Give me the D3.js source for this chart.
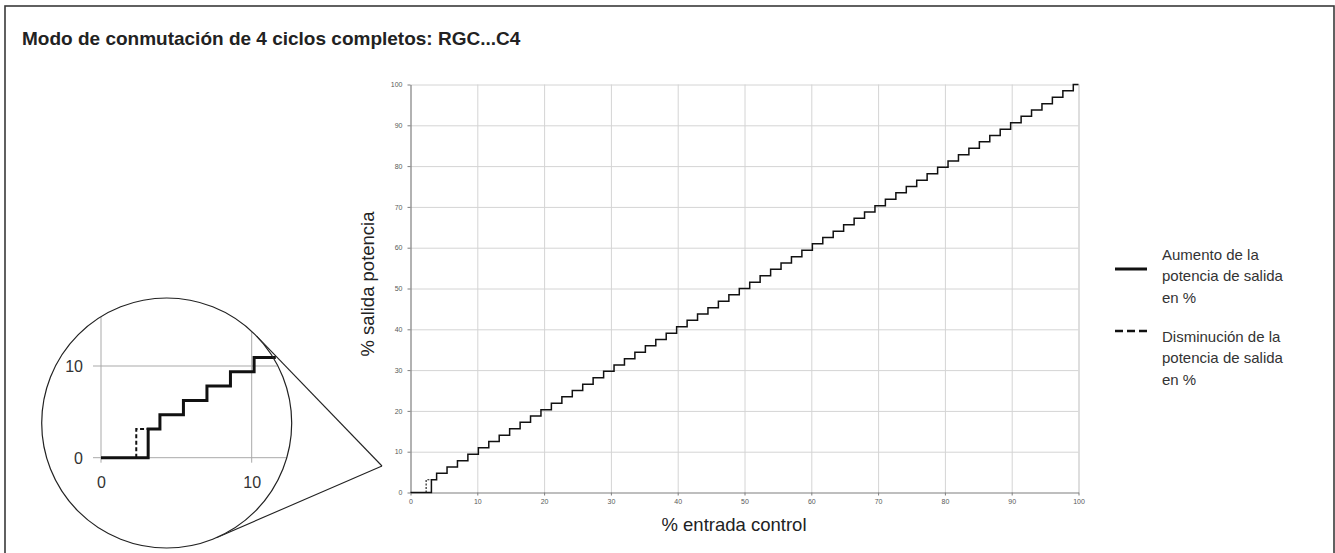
<!DOCTYPE html>
<html>
<head>
<meta charset="utf-8">
<script src="https://cdn.jsdelivr.net/npm/d3@7"></script>
<style>
  html, body { margin: 0; padding: 0; background: #fff; }
  svg { display: block; }
  text { font-family: "Liberation Sans", Arial, Helvetica, sans-serif; }
</style>
</head>
<body>
<svg id="chart" width="1335" height="553"></svg>
<script>
// ---------------- DATA ----------------
const titleText = "Modo de conmutación de 4 ciclos completos: RGC...C4";
const xAxisTitle = "% entrada control";
const yAxisTitle = "% salida potencia";
const mainTicks = [0, 10, 20, 30, 40, 50, 60, 70, 80, 90, 100];
const insetTicks = [0, 10];

// Increasing output power (step positions on % control input, output level after the step)
const incX = [0, 3.13, 3.91, 5.47, 7.03, 8.59, 10.16, 11.72, 13.28, 14.84, 16.41, 17.97, 19.53, 21.09, 22.66,
  24.22, 25.78, 27.34, 28.91, 30.47, 32.03, 33.59, 35.16, 36.72, 38.28, 39.84, 41.41, 42.97, 44.53,
  46.09, 47.66, 49.22, 50.78, 52.34, 53.91, 55.47, 57.03, 58.59, 60.16, 61.72, 63.28, 64.84, 66.41,
  67.97, 69.53, 71.09, 72.66, 74.22, 75.78, 77.34, 78.91, 80.47, 82.03, 83.59, 85.16, 86.72, 88.28,
  89.84, 91.41, 92.97, 94.53, 96.09, 97.66, 99.22, 100];
const incY = [0, 3.13, 4.69, 6.25, 7.81, 9.38, 10.94, 12.5, 14.06, 15.63, 17.19, 18.75, 20.31, 21.88, 23.44,
  25, 26.56, 28.13, 29.69, 31.25, 32.81, 34.38, 35.94, 37.5, 39.06, 40.63, 42.19, 43.75, 45.31,
  46.88, 48.44, 50, 51.56, 53.13, 54.69, 56.25, 57.81, 59.38, 60.94, 62.5, 64.06, 65.63, 67.19,
  68.75, 70.31, 71.88, 73.44, 75, 76.56, 78.13, 79.69, 81.25, 82.81, 84.38, 85.94, 87.5, 89.06,
  90.63, 92.19, 93.75, 95.31, 96.88, 98.44, 100, 100];

// Decreasing output power (differs only at the first step)
const decX = [2.34, 2.34, 3.13];
const decY = [0, 3.13, 3.13];

const legendItems = [
  { lines: ["Aumento de la", "potencia de salida", "en %"], dash: null },
  { lines: ["Disminución de la", "potencia de salida", "en %"], dash: "8,4" }
];

// ---------------- DRAW ----------------
const svg = d3.select("#chart");
const incPts = incX.map((x, i) => [x, incY[i]]);
const decPts = decX.map((x, i) => [x, decY[i]]);

// frame
svg.append("rect").attr("x", 5).attr("y", 6).attr("width", 1329).attr("height", 600)
  .attr("fill", "none").attr("stroke", "#3a3a3a").attr("stroke-width", 1.6);

// title
svg.append("text").attr("x", 22).attr("y", 45).attr("font-size", 19).attr("font-weight", "bold")
  .attr("fill", "#222").text(titleText);

// main plot
const x = d3.scaleLinear().domain([0, 100]).range([410.5, 1078.5]);
const y = d3.scaleLinear().domain([0, 100]).range([492.5, 84.5]);
const plotH = y(0) - y(100), plotW = x(100) - x(0);

const main = svg.append("g");
// grid
const gx = main.append("g").attr("transform", `translate(0,${y(0)})`)
  .call(d3.axisBottom(x).tickValues(mainTicks.slice(1)).tickSize(-plotH).tickFormat(""));
gx.select(".domain").remove();
gx.selectAll("line").attr("stroke", "#d4d4d4").attr("stroke-width", 1);
gx.selectAll(".tick").filter(d => d === 100).select("line").attr("stroke", "#dedede").attr("stroke-width", 2);
const gy = main.append("g").attr("transform", `translate(${x(0)},0)`)
  .call(d3.axisLeft(y).tickValues(mainTicks.slice(1)).tickSize(-plotW).tickFormat(""));
gy.select(".domain").remove();
gy.selectAll("line").attr("stroke", "#d4d4d4").attr("stroke-width", 1);

// axes
const ax = main.append("g").attr("transform", `translate(0,${y(0)})`)
  .call(d3.axisBottom(x).tickValues(mainTicks).tickSize(3).tickSizeOuter(0).tickPadding(4));
const ay = main.append("g").attr("transform", `translate(${x(0)},0)`)
  .call(d3.axisLeft(y).tickValues(mainTicks).tickSize(3).tickSizeOuter(0).tickPadding(5));
[ax, ay].forEach(g => {
  g.select(".domain").attr("stroke", "#7f7f7f").attr("stroke-width", 1.2);
  g.selectAll(".tick line").attr("stroke", "#7f7f7f");
  g.selectAll(".tick text").attr("font-family", "'DejaVu Sans', Verdana, sans-serif")
    .attr("font-size", 7).attr("fill", "#595959");
});

// staircase lines
const stepLine = d3.line().x(d => x(d[0])).y(d => y(d[1])).curve(d3.curveStepAfter);
const linLine = d3.line().x(d => x(d[0])).y(d => y(d[1]));
main.append("path").attr("d", linLine(decPts)).attr("fill", "none").attr("stroke", "#111")
  .attr("stroke-width", 1.1).attr("stroke-dasharray", "2,1.5");
main.append("path").attr("d", stepLine(incPts)).attr("fill", "none").attr("stroke", "#111")
  .attr("stroke-width", 1.5);

// axis titles
svg.append("text").attr("x", 734).attr("y", 531).attr("text-anchor", "middle")
  .attr("font-size", 18.5).attr("fill", "#222").text(xAxisTitle);
svg.append("text").attr("transform", "translate(374,284) rotate(-90)").attr("text-anchor", "middle")
  .attr("font-size", 18.5).attr("fill", "#222").text(yAxisTitle);

// ---------------- INSET ----------------
const cx = 166.7, cy = 423, r = 125;
const apex = [382, 466];
// tangent lines
const dx = apex[0] - cx, dy = apex[1] - cy, d = Math.hypot(dx, dy);
const base = Math.atan2(dy, dx), off = Math.acos(r / d);
[base - off, base + off].forEach(a => {
  svg.append("line").attr("x1", cx + r * Math.cos(a)).attr("y1", cy + r * Math.sin(a))
    .attr("x2", apex[0]).attr("y2", apex[1]).attr("stroke", "#222").attr("stroke-width", 1.1);
});

const defs = svg.append("defs");
defs.append("clipPath").attr("id", "circClip").append("circle").attr("cx", cx).attr("cy", cy).attr("r", r);
const xi = d3.scaleLinear().domain([0, 10]).range([101, 251.7]);
const yi = d3.scaleLinear().domain([0, 10]).range([457.7, 366]);
defs.append("clipPath").attr("id", "lineClip").append("rect")
  .attr("x", 0).attr("y", 0).attr("width", xi(11.6)).attr("height", 553);

svg.append("circle").attr("cx", cx).attr("cy", cy).attr("r", r).attr("fill", "#fff");

const inset = svg.append("g").attr("clip-path", "url(#circClip)");
insetTicks.forEach(t => {
  inset.append("line").attr("x1", xi(t)).attr("x2", xi(t)).attr("y1", yi(0) + 5).attr("y2", 200)
    .attr("stroke", "#a9a9a9").attr("stroke-width", 1);
  inset.append("line").attr("x1", xi(0) - 8).attr("x2", 400).attr("y1", yi(t)).attr("y2", yi(t))
    .attr("stroke", "#a9a9a9").attr("stroke-width", 1);
});
insetTicks.forEach(t => {
  svg.append("text").attr("x", xi(t) + 0.5).attr("y", yi(0) + 30).attr("text-anchor", "middle")
    .attr("font-size", 16).attr("fill", "#333").text(t);
  svg.append("text").attr("x", xi(0) - 18).attr("y", yi(t) + 6).attr("text-anchor", "end")
    .attr("font-size", 16).attr("fill", "#333").text(t);
});
const stepI = d3.line().x(d => xi(d[0])).y(d => yi(d[1])).curve(d3.curveStepAfter);
const linI = d3.line().x(d => xi(d[0])).y(d => yi(d[1]));
const insetLines = svg.append("g").attr("clip-path", "url(#lineClip)");
insetLines.append("path").attr("d", linI(decPts)).attr("fill", "none").attr("stroke", "#111")
  .attr("stroke-width", 2).attr("stroke-dasharray", "4,2.5");
insetLines.append("path").attr("d", stepI(incPts.filter(p => p[0] <= 12))).attr("fill", "none")
  .attr("stroke", "#111").attr("stroke-width", 3).attr("stroke-linejoin", "miter");

svg.append("circle").attr("cx", cx).attr("cy", cy).attr("r", r).attr("fill", "none")
  .attr("stroke", "#222").attr("stroke-width", 1.2);

// ---------------- LEGEND ----------------
const legTop = [260, 342];
legendItems.forEach((item, i) => {
  const ly = i === 0 ? 269 : 331;
  const l = svg.append("line").attr("x1", 1115).attr("x2", i === 0 ? 1147 : 1150).attr("y1", ly).attr("y2", ly)
    .attr("stroke", "#111").attr("stroke-width", i === 0 ? 3 : 2.5);
  if (item.dash) l.attr("stroke-dasharray", item.dash);
  item.lines.forEach((t, j) => {
    svg.append("text").attr("x", 1162).attr("y", legTop[i] + j * 21.3).attr("font-size", 15)
      .attr("fill", "#333").text(t);
  });
});
</script>
</body>
</html>
